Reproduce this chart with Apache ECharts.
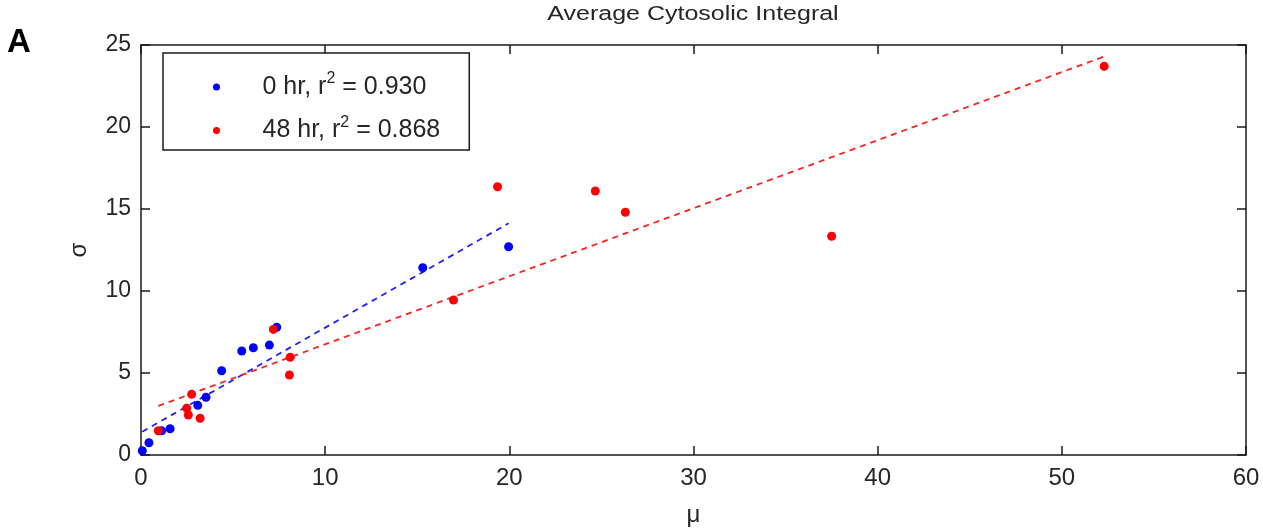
<!DOCTYPE html>
<html>
<head>
<meta charset="utf-8">
<script src="https://cdn.jsdelivr.net/npm/echarts@6/dist/echarts.min.js"></script>
<style>
html,body{margin:0;padding:0;background:#fff;overflow:hidden;}
#chart{width:1263px;height:529px;}
</style>
</head>
<body>
<div id="chart"></div>
<script>
// ---- data ----
const titleText = 'Average Cytosolic Integral';
const panelLabel = 'A';
const xName = 'μ';
const yName = 'σ';
const seriesNames = ['0 hr', '48 hr'];
const r2Values = ['0.930', '0.868'];

const blueX = [0.07, 0.43, 1.12, 1.58, 3.08, 3.53, 4.38, 5.47, 6.10, 6.97, 7.37, 15.30, 19.96];
const blueY = [0.26, 0.75, 1.48, 1.60, 3.03, 3.52, 5.14, 6.34, 6.54, 6.70, 7.79, 11.42, 12.70];

const redX = [0.94, 2.48, 2.57, 2.75, 3.21, 7.19, 8.10, 8.06, 16.97, 19.36, 24.67, 26.30, 37.50, 52.30];
const redY = [1.48, 2.85, 2.44, 3.70, 2.24, 7.66, 5.96, 4.88, 9.45, 16.36, 16.10, 14.80, 13.34, 23.70];

const blueFitX = [0.07, 19.96];
const blueFitY = [1.42, 14.13];
const redFitX = [0.94, 52.30];
const redFitY = [2.99, 24.30];

const xTicks = [0, 10, 20, 30, 40, 50, 60];
const yTicks = [0, 5, 10, 15, 20, 25];

// ---- build ----
const zip = (a, b) => a.map((v, i) => [v, b[i]]);
const FONT = '"Liberation Sans", Arial, sans-serif';
const AX = '#1a1a1a';
const TXT = '#262626';

const chart = echarts.init(document.getElementById('chart'), null, {renderer: 'canvas'});

function axisBase(showLabel, fontSize, margin) {
  return {
    axisLine: {show: true, onZero: false, lineStyle: {color: AX, width: 1.5}},
    axisTick: {show: true, inside: true, length: 9, lineStyle: {color: AX, width: 1.5}},
    splitLine: {show: false},
    axisLabel: {show: showLabel, color: TXT, fontFamily: FONT, fontSize: fontSize || 22, margin: margin || 8}
  };
}

const option = {
  backgroundColor: '#ffffff',
  animation: false,
  grid: {left: 141, right: 17, top: 45, bottom: 74, containLabel: false, outerBoundsMode: 'none'},
  xAxis: [
    Object.assign({
      type: 'value', position: 'bottom', min: xTicks[0], max: xTicks[xTicks.length - 1], interval: 10,
      name: xName, nameLocation: 'middle', nameGap: 48,
      nameTextStyle: {fontFamily: FONT, fontSize: 24, color: TXT}
    }, axisBase(true, 24, 11)),
    Object.assign({
      type: 'value', position: 'top', min: xTicks[0], max: xTicks[xTicks.length - 1], interval: 10
    }, axisBase(false))
  ],
  yAxis: [
    Object.assign({
      type: 'value', position: 'left', min: yTicks[0], max: yTicks[yTicks.length - 1], interval: 5,
      name: yName, nameLocation: 'middle', nameGap: 50, nameRotate: 90,
      nameTextStyle: {fontFamily: FONT, fontSize: 24, color: TXT}
    }, axisBase(true, 23, 10)),
    Object.assign({
      type: 'value', position: 'right', min: yTicks[0], max: yTicks[yTicks.length - 1], interval: 5
    }, axisBase(false))
  ],
  legend: {
    data: seriesNames,
    orient: 'vertical',
    left: 163,
    top: 53,
    itemWidth: 82,
    itemHeight: 7,
    itemGap: 15,
    padding: [18, 29, 7, 50],
    backgroundColor: '#ffffff',
    borderColor: AX,
    borderWidth: 1.5,
    borderRadius: 0,
    selectedMode: false,
    formatter: function (name) {
      const i = seriesNames.indexOf(name);
      return '{t|' + name + ', r}{s|2}{t| = ' + r2Values[i] + '}';
    },
    textStyle: {
      color: TXT,
      rich: {
        t: {fontFamily: FONT, fontSize: 25, lineHeight: 32, color: TXT},
        s: {fontFamily: FONT, fontSize: 16, lineHeight: 22, verticalAlign: 'top', color: TXT}
      }
    }
  },
  graphic: [
    {type: 'text', left: 7, top: 26, style: {text: panelLabel, fontFamily: FONT, fontWeight: 'bold', fontSize: 33, fill: '#000'}},
    {type: 'text', x: 693, y: 14, scaleX: 1.25, scaleY: 1,
     style: {text: titleText, fontFamily: FONT, fontSize: 20, fill: TXT, align: 'center', verticalAlign: 'middle'}}
  ],
  series: [
    {
      name: seriesNames[0], type: 'scatter', xAxisIndex: 0, yAxisIndex: 0,
      data: zip(blueX, blueY), symbol: 'circle', symbolSize: 9,
      itemStyle: {color: '#0000ff', opacity: 1}, z: 3
    },
    {
      name: seriesNames[1], type: 'scatter', xAxisIndex: 0, yAxisIndex: 0,
      data: zip(redX, redY), symbol: 'circle', symbolSize: 9,
      itemStyle: {color: '#ff0000', opacity: 1}, z: 3
    },
    {
      name: 'fit0', type: 'line', xAxisIndex: 0, yAxisIndex: 0,
      data: zip(blueFitX, blueFitY), showSymbol: false, symbol: 'none',
      lineStyle: {color: '#2020ff', width: 1.8, type: [6, 5]}, z: 2
    },
    {
      name: 'fit1', type: 'line', xAxisIndex: 0, yAxisIndex: 0,
      data: zip(redFitX, redFitY), showSymbol: false, symbol: 'none',
      lineStyle: {color: '#ff2020', width: 1.8, type: [6, 5]}, z: 2
    }
  ]
};
chart.setOption(option);
</script>
</body>
</html>
